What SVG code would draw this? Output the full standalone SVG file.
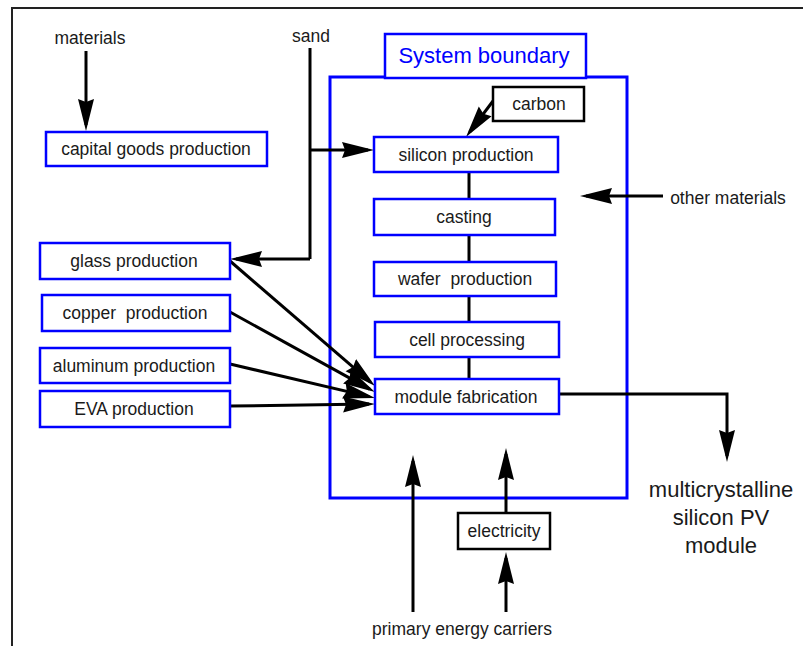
<svg xmlns="http://www.w3.org/2000/svg" width="803" height="646" viewBox="0 0 803 646">
  <style>
    text { font-family: "Liberation Sans", Arial, sans-serif; font-size: 17.5px; fill: #1a1a1a; text-anchor: middle; }
    .proc { fill: #fff; stroke: #0000ff; stroke-width: 2.5; }
    .ext { fill: #fff; stroke: #000; stroke-width: 2.5; }
    .boundary { fill: none; stroke: #0000ff; stroke-width: 3; }
    .flow { fill: none; stroke: #000; stroke-width: 3; }
    .arrow { marker-end: url(#head); }
    .blue { fill: #0000ff; font-size: 22px; }
    .big { font-size: 22px; }
  </style>
  <defs>
    <marker id="head" markerUnits="userSpaceOnUse" viewBox="0 0 32 18" markerWidth="32" markerHeight="18" refX="26" refY="9" orient="auto">
      <path d="M0,1 L32,9 L0,17 L3,9 Z" fill="#000"/>
    </marker>
  </defs>

  <rect width="803" height="646" fill="#fff"/>
  <!-- page frame -->
  <path d="M12,660 V8 H820" fill="none" stroke="#222" stroke-width="2"/>

  <!-- system boundary -->
  <g id="system-boundary">
    <rect class="boundary" x="330" y="77" width="297" height="421"/>
    <rect class="proc" x="385" y="34" width="201" height="44" stroke-width="3"/>
    <text class="blue" x="484" y="63">System boundary</text>
  </g>

  <!-- connectors -->
  <g id="connectors">
    <line class="flow arrow" x1="86" y1="51" x2="86" y2="125"/>
    <path class="flow" d="M310,48 V259"/>
    <line class="flow arrow" x1="310" y1="150" x2="368" y2="150"/>
    <line class="flow arrow" x1="310" y1="259" x2="236" y2="259"/>
    <line class="flow arrow" x1="493" y1="101" x2="469.6" y2="132.2"/>
    <line class="flow arrow" x1="663" y1="196" x2="586" y2="196"/>
    <line class="flow" x1="469" y1="172" x2="469" y2="199"/>
    <line class="flow" x1="469" y1="235" x2="469" y2="262"/>
    <line class="flow" x1="469" y1="296" x2="469" y2="322"/>
    <line class="flow" x1="469" y1="357" x2="469" y2="379"/>
    <line class="flow arrow" x1="230" y1="261" x2="370.5" y2="382.1"/>
    <line class="flow arrow" x1="230" y1="312" x2="369.7" y2="389.1"/>
    <line class="flow arrow" x1="230" y1="364" x2="369.2" y2="396.6"/>
    <line class="flow arrow" x1="230" y1="406" x2="369" y2="404.1" stroke-width="2.5"/>
    <path class="flow arrow" d="M559,394 H727 V456"/>
    <line class="flow arrow" x1="413" y1="612" x2="413" y2="461"/>
    <line class="flow arrow" x1="506" y1="513" x2="506" y2="454"/>
    <line class="flow arrow" x1="506" y1="612" x2="506" y2="558"/>
  </g>

  <!-- free labels -->
  <g id="materials"><text x="90" y="44">materials</text></g>
  <g id="sand"><text x="311" y="42">sand</text></g>
  <g id="other-materials"><text x="728" y="204">other materials</text></g>
  <g id="primary-energy"><text x="462" y="635">primary energy carriers</text></g>
  <g id="pv-module">
    <text class="big" x="721" y="497">multicrystalline</text>
    <text class="big" x="721" y="525">silicon PV</text>
    <text class="big" x="721" y="553">module</text>
  </g>

  <!-- external processes -->
  <g id="capital-goods">
    <rect class="proc" x="46" y="132" width="221" height="34"/>
    <text x="156" y="155">capital goods production</text>
  </g>
  <g id="glass">
    <rect class="proc" x="40" y="243" width="190" height="36"/>
    <text x="134" y="267">glass production</text>
  </g>
  <g id="copper">
    <rect class="proc" x="42" y="295" width="188" height="36"/>
    <text x="135" y="319" xml:space="preserve">copper  production</text>
  </g>
  <g id="aluminum">
    <rect class="proc" x="40" y="348" width="190" height="35"/>
    <text x="134" y="371.5">aluminum production</text>
  </g>
  <g id="eva">
    <rect class="proc" x="40" y="391" width="190" height="36"/>
    <text x="134" y="415">EVA production</text>
  </g>
  <g id="carbon">
    <rect class="ext" x="493" y="87" width="91" height="34"/>
    <text x="539" y="110">carbon</text>
  </g>
  <g id="electricity">
    <rect class="ext" x="458" y="513" width="92" height="36"/>
    <text x="504" y="537">electricity</text>
  </g>

  <!-- process chain -->
  <g id="silicon-production">
    <rect class="proc" x="374" y="137" width="184" height="35"/>
    <text x="466" y="160.5">silicon production</text>
  </g>
  <g id="casting">
    <rect class="proc" x="374" y="199" width="181" height="36"/>
    <text x="464" y="223">casting</text>
  </g>
  <g id="wafer-production">
    <rect class="proc" x="374" y="262" width="182" height="34"/>
    <text x="465" y="285" xml:space="preserve">wafer  production</text>
  </g>
  <g id="cell-processing">
    <rect class="proc" x="375" y="322" width="184" height="35"/>
    <text x="467" y="345.5">cell processing</text>
  </g>
  <g id="module-fabrication">
    <rect class="proc" x="375" y="379" width="184" height="35"/>
    <text x="466" y="402.5">module fabrication</text>
  </g>
</svg>
